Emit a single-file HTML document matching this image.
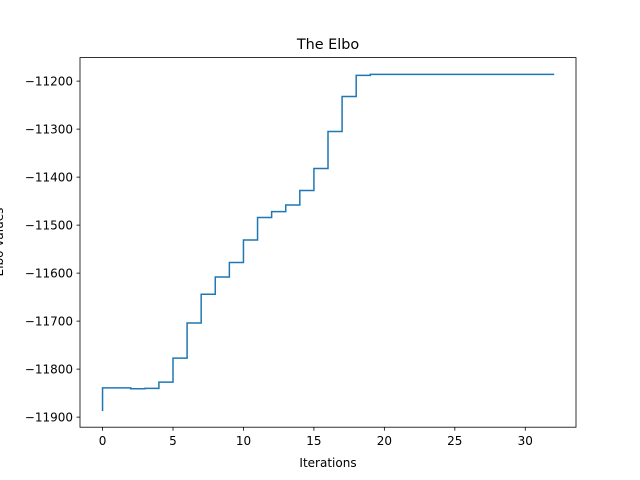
<!DOCTYPE html>
<html><head><meta charset="utf-8"><style>body{margin:0;background:#fff}svg{display:block}text{font-family:"DejaVu Sans","Liberation Sans",sans-serif;fill:#000}</style></head>
<body>
<svg id="chart" width="640" height="480" viewBox="0 0 640 480">
<rect width="640" height="480" fill="#fff"/>
<text x="328" y="49" font-size="14.4" text-anchor="middle">The Elbo</text>
<g id="xt"></g>
<g id="yt"></g>
<path id="line" fill="none" stroke="#1f77b4" stroke-width="1.5" stroke-linejoin="miter" stroke-linecap="square"/>
<rect x="80" y="57.6" width="496" height="369.6" fill="none" stroke="#000" stroke-width="0.8"/>
<text x="328" y="467" font-size="12" text-anchor="middle">Iterations</text>
<text transform="translate(3,242) rotate(-90)" font-size="12" text-anchor="middle">Elbo values</text>
</svg>
<script>
const elbo = [-11886,-11839,-11839,-11841,-11840,-11827,-11777,-11704,-11644,-11608,-11578,-11531,-11484,-11472,-11458,-11428,-11382,-11305,-11232,-11188,-11186,-11186,-11186,-11186,-11186,-11186,-11186,-11186,-11186,-11186,-11186,-11186,-11186];
const xTicks = [0,5,10,15,20,25,30];
const yTicks = [-11900,-11800,-11700,-11600,-11500,-11400,-11300,-11200];
const L=80,R=576,T=57.6,B=427.2;
const n=elbo.length-1, xr=n*0.05;
const x0=-xr, x1=n+xr;
const ymn=Math.min(...elbo), ymx=Math.max(...elbo), yr=(ymx-ymn)*0.05;
const y0=ymn-yr, y1=ymx+yr;
const X=v=>L+(v-x0)/(x1-x0)*(R-L);
const Y=v=>B-(v-y0)/(y1-y0)*(B-T);
const NS='http://www.w3.org/2000/svg';
let d='M'+X(0)+','+Y(elbo[0]);
for(let i=1;i<elbo.length;i++){d+=' L'+X(i-1)+','+Y(elbo[i])+' L'+X(i)+','+Y(elbo[i]);}
document.getElementById('line').setAttribute('d',d);
const xt=document.getElementById('xt');
xTicks.forEach(t=>{
 const l=document.createElementNS(NS,'line');
 
 
 l.setAttribute('x1',X(t));l.setAttribute('x2',X(t));l.setAttribute('y1',B);l.setAttribute('y2',B+3.5);l.setAttribute('stroke','#000');l.setAttribute('stroke-width','0.8');xt.appendChild(l);
 const s=document.createElementNS(NS,'text');
 
 
 s.setAttribute('x',X(t));s.setAttribute('y',B+18);s.setAttribute('font-size','12');s.setAttribute('text-anchor','middle');s.textContent=t;xt.appendChild(s);
});
const yt=document.getElementById('yt');
yTicks.forEach(t=>{
 const l=document.createElementNS(NS,'line');
 
 
 l.setAttribute('x1',L-3.5);l.setAttribute('x2',L);l.setAttribute('y1',Y(t));l.setAttribute('y2',Y(t));l.setAttribute('stroke','#000');l.setAttribute('stroke-width','0.8');yt.appendChild(l);
 const s=document.createElementNS(NS,'text');
 
 
 s.setAttribute('x',L-7);s.setAttribute('y',Y(t)+4.3);s.setAttribute('font-size','12');s.setAttribute('text-anchor','end');s.textContent='\u2212'+Math.abs(t);yt.appendChild(s);
});
</script>
</body></html>
